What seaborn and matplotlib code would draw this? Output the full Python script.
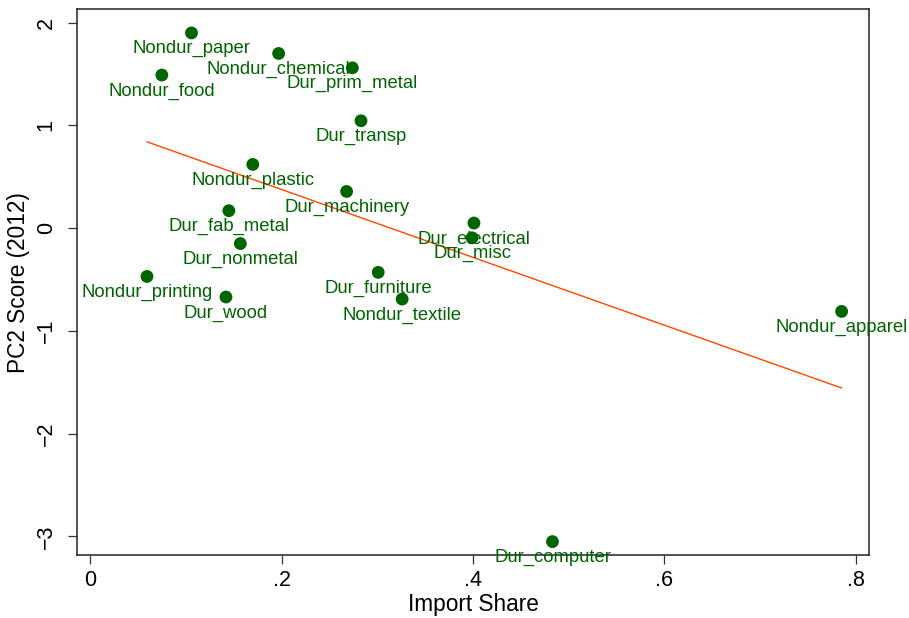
import numpy as np
import pandas as pd
import matplotlib
matplotlib.use("Agg")
import matplotlib.pyplot as plt
import seaborn as sns

# industries, import share and PC2 score
industries = [
    "Nondur_paper", "Nondur_chemical", "Dur_prim_metal", "Nondur_food",
    "Dur_transp", "Nondur_plastic", "Dur_machinery", "Dur_fab_metal",
    "Dur_nonmetal", "Nondur_printing", "Dur_wood", "Dur_furniture",
    "Nondur_textile", "Dur_electrical", "Dur_misc", "Nondur_apparel",
    "Dur_computer",
]
import_share = [0.106, 0.197, 0.274, 0.075, 0.283, 0.170, 0.268, 0.145,
                0.157, 0.0595, 0.142, 0.301, 0.326, 0.401, 0.399, 0.785,
                0.483]
pc2_score = [1.90, 1.70, 1.56, 1.49, 1.045, 0.62, 0.357, 0.17,
             -0.15, -0.47, -0.67, -0.43, -0.69, 0.05, -0.094, -0.81,
             -3.05]

x_ticks = [0, 0.2, 0.4, 0.6, 0.8]
x_tick_labels = ["0", ".2", ".4", ".6", ".8"]
y_ticks = [-3, -2, -1, 0, 1, 2]

df = pd.DataFrame({"industry": industries, "share": import_share, "pc2": pc2_score})

sns.set_style("white")
plt.rcParams["font.family"] = ["Liberation Sans", "DejaVu Sans"]
plt.rcParams["text.color"] = "black"
plt.rcParams["axes.labelcolor"] = "black"

green = "#006400"
fig = plt.figure(figsize=(9.09, 6.18), dpi=100)
ax = fig.add_axes([0.0847, 0.102, 0.8713, 0.883])

sns.regplot(data=df, x="share", y="pc2", ax=ax, scatter=False, ci=None,
            truncate=True, line_kws={"color": "#ff4500", "linewidth": 1.0})
sns.scatterplot(data=df, x="share", y="pc2", ax=ax, color=green, s=85,
                edgecolor="none", zorder=3)

for _, row in df.iterrows():
    ax.annotate(row["industry"], (row["share"], row["pc2"]),
                xytext=(0, -11.5), textcoords="offset points",
                ha="center", va="center", color=green, fontsize=13.3,
                annotation_clip=False, zorder=4)

ax.set_xlim(-0.0136, 0.8136)
ax.set_ylim(-3.18, 2.13)
ax.set_xticks(x_ticks)
ax.set_xticklabels(x_tick_labels)
ax.set_yticks(y_ticks)
ax.set_yticklabels([str(v).replace("-", "\u2212") for v in y_ticks],
                   rotation=90, va="center")
ax.tick_params(axis="both", direction="out", length=6.5, width=0.9,
               labelsize=15.5, bottom=True, left=True, color="#333333",
               labelcolor="black")
ax.tick_params(axis="x", pad=4)
ax.tick_params(axis="y", pad=8)
ax.set_xlabel("Import Share", fontsize=16.3, labelpad=2)
ax.set_ylabel("PC2 Score (2012)", fontsize=16.3, labelpad=4)
for sp in ax.spines.values():
    sp.set_color("#222222")
    sp.set_linewidth(1.1)

fig.savefig("out.png", dpi=100)
